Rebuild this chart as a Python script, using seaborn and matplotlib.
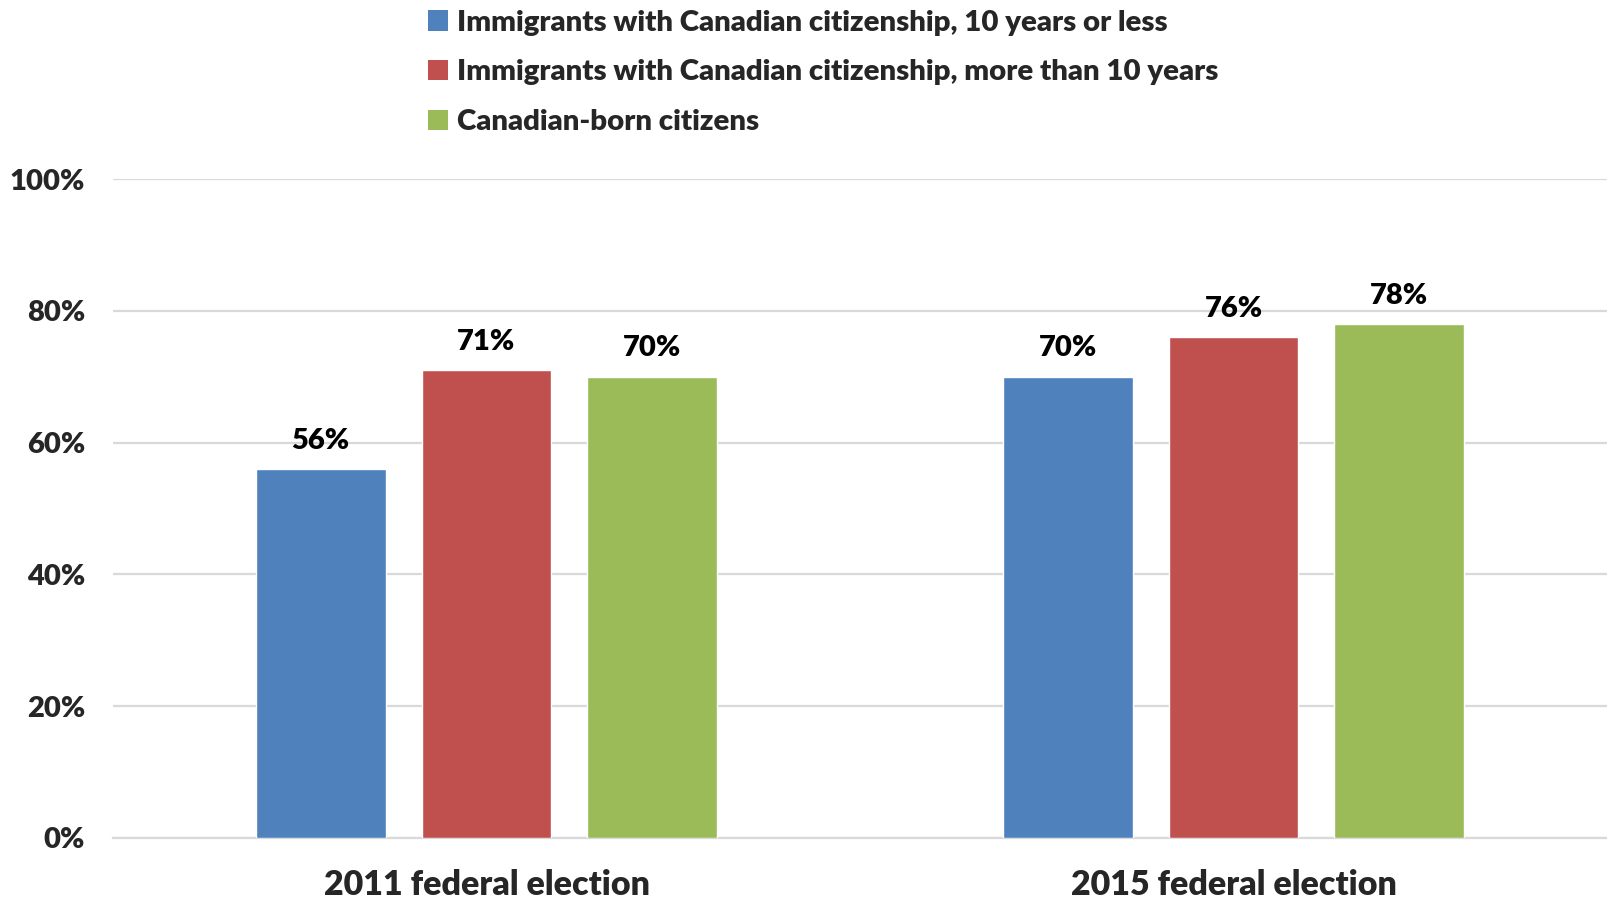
import matplotlib
matplotlib.use("Agg")
import matplotlib.pyplot as plt
import seaborn as sns
import pandas as pd
from matplotlib.patches import Patch

elections = ["2011 federal election", "2015 federal election"]
groups = [
    "Immigrants with Canadian citizenship, 10 years or less",
    "Immigrants with Canadian citizenship, more than 10 years",
    "Canadian-born citizens",
]
turnout_recent = [56, 70]
turnout_established = [71, 76]
turnout_born = [70, 78]
colors = ["#4F81BD", "#C0504D", "#9BBB59"]

rows = []
for g, vals in zip(groups, [turnout_recent, turnout_established, turnout_born]):
    for e, v in zip(elections, vals):
        rows.append({"election": e, "group": g, "turnout": v})
df = pd.DataFrame(rows)

sns.set_theme(style="white")
plt.rcParams["font.family"] = ["Lato", "DejaVu Sans"]
W = "heavy"
plt.rcParams["font.weight"] = W

fig = plt.figure(figsize=(16.07, 9.02), dpi=100)
ax = fig.add_axes([113 / 1607, 1 - 838 / 902, 1 - 113 / 1607, (838 - 179) / 902])

sns.barplot(data=df, x="election", y="turnout", hue="group", hue_order=groups,
            palette=colors, width=0.666, gap=0.217, saturation=1, legend=False,
            errorbar=None, ax=ax, zorder=3)

ax.set_xlim(-0.5, 1.5)
ax.set_ylim(0, 100)
ticks = [0, 20, 40, 60, 80, 100]
ax.set_yticks(ticks)
ax.set_yticklabels([f"{t}%" for t in ticks], fontsize=21, fontweight=W)
ax.tick_params(axis="y", length=0, pad=20)
ax.set_xticks(range(len(elections)))
ax.set_xticklabels(elections, fontsize=24.5, fontweight=W)
ax.tick_params(axis="x", length=0, pad=22)
ax.set_xlabel("")
ax.set_ylabel("")
ax.grid(axis="y", color="#d9d9d9", linewidth=1.6, zorder=0)
for s in ["top", "right", "left"]:
    ax.spines[s].set_visible(False)
ax.spines["bottom"].set_color("#d9d9d9")
ax.spines["bottom"].set_linewidth(1.6)

for cont in ax.containers:
    ax.bar_label(cont, labels=[f"{v:.0f}%" for v in cont.datavalues],
                 padding=11, fontsize=21, fontweight=W, color="black")

handles = [Patch(facecolor=c, edgecolor="none") for c in colors]
fig.legend(handles, groups, loc="upper left", bbox_to_anchor=(410 / 1607, 1.009),
           frameon=False, prop={"weight": W, "size": 21.2},
           handlelength=0.7, handleheight=0.7, handletextpad=0.3,
           labelspacing=0.81, borderaxespad=0.2)

fig.savefig("out.png", dpi=100)
